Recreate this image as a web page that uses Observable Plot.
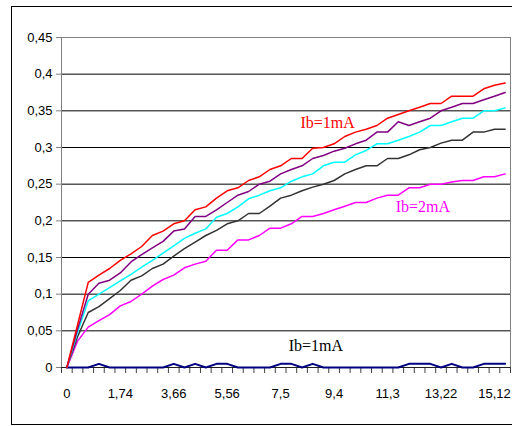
<!DOCTYPE html>
<html><head><meta charset="utf-8">
<script src="https://cdn.jsdelivr.net/npm/d3@7"></script>
<script src="https://cdn.jsdelivr.net/npm/@observablehq/plot@0.6"></script>
<style>
body{margin:0;background:#fff}
#chart{position:relative;width:512px;height:426px;overflow:hidden}
</style>
</head><body><div id="chart"></div>
<script>
// category tick labels (every 5th category of 42)
const xLabels = ["0","1,74","3,66","5,56","7,5","9,4","11,3","13,22","15,12"];
const yTicks = [0,0.05,0.1,0.15,0.2,0.25,0.3,0.35,0.4,0.45];

const redVals = [0,0.058,0.116,0.126,0.135,0.146,0.155,0.165,0.18,0.186,0.196,0.2,0.215,0.219,0.231,0.241,0.245,0.255,0.26,0.27,0.275,0.285,0.285,0.299,0.3,0.305,0.315,0.321,0.325,0.33,0.34,0.345,0.35,0.355,0.36,0.36,0.37,0.37,0.37,0.38,0.385,0.388];
const purpleVals = [0,0.052,0.1,0.115,0.119,0.129,0.144,0.154,0.163,0.172,0.186,0.189,0.206,0.206,0.215,0.225,0.235,0.24,0.25,0.254,0.264,0.27,0.275,0.285,0.289,0.295,0.299,0.305,0.31,0.321,0.321,0.335,0.33,0.335,0.34,0.35,0.355,0.36,0.36,0.365,0.37,0.375];
const cyanVals = [0,0.048,0.091,0.1,0.109,0.118,0.127,0.137,0.146,0.156,0.166,0.176,0.183,0.189,0.205,0.21,0.219,0.23,0.235,0.241,0.245,0.254,0.26,0.264,0.275,0.28,0.28,0.29,0.296,0.305,0.305,0.31,0.315,0.321,0.33,0.33,0.335,0.34,0.34,0.35,0.35,0.354];
const blackVals = [0,0.042,0.075,0.083,0.094,0.105,0.119,0.125,0.135,0.141,0.152,0.162,0.171,0.18,0.187,0.196,0.2,0.21,0.21,0.22,0.231,0.235,0.241,0.246,0.25,0.255,0.264,0.27,0.275,0.275,0.285,0.285,0.29,0.297,0.3,0.306,0.31,0.31,0.321,0.321,0.325,0.325];
const magentaVals = [0,0.036,0.055,0.064,0.072,0.084,0.09,0.1,0.111,0.12,0.126,0.136,0.141,0.145,0.16,0.16,0.174,0.174,0.18,0.19,0.19,0.196,0.206,0.206,0.21,0.215,0.22,0.225,0.225,0.231,0.235,0.235,0.245,0.245,0.25,0.25,0.253,0.255,0.255,0.26,0.26,0.264];
const navyVals = [0,0,0,0.005,0,0,0,0,0,0,0.005,0,0.005,0,0.005,0.005,0,0,0,0,0.005,0.005,0,0.005,0,0,0,0,0,0,0,0,0.005,0.005,0.005,0,0.005,0,0,0.005,0.005,0.005];

const seriesNames = ["navy","magenta","black","cyan","purple","red"];
const seriesValues = [navyVals, magentaVals, blackVals, cyanVals, purpleVals, redVals];
const seriesColors = ["#000080","#ff00ff","#333333","#00ffff","#800080","#ff0000"];
const seriesWidths = [2,1.5,1.5,1.5,1.5,1.5];

// annotations (category position, value)
const annText = ["Ib=1mA","Ib=2mA","Ib=1mA"];
const annX = [24.4, 33.3, 23.3];
const annY = [0.333, 0.219, 0.029];
const annColor = ["#ff0000","#ff00ff","#000000"];

const n = redVals.length;
const idx = d3.range(n);
const boundaries = d3.range(n + 1).map(i => i - 0.5);
const labelIdx = xLabels.map((_, k) => k * 5);

const marks = [
  Plot.ruleY(yTicks.slice(1, -1), {stroke: "#000", strokeWidth: 1}),
  Plot.frame({stroke: "#808080", strokeWidth: 1}),
  Plot.axisY({ticks: yTicks, tickSize: 5, tickPadding: 4, stroke: "#808080", fill: "#000",
    tickFormat: d => String(d).replace(".", ","), label: null}),
  Plot.axisX({ticks: boundaries, tickSize: 6, tickFormat: () => "", stroke: "#404040", label: null}),
  Plot.axisX({ticks: labelIdx, tickSize: 0, tickPadding: 21, tickFormat: i => xLabels[Math.round(i / 5)], fill: "#000", label: null}),
  Plot.ruleY([0], {stroke: "#202020", strokeWidth: 1})
];
seriesNames.forEach((name, s) => {
  marks.push(Plot.line(idx, {x: i => i, y: i => seriesValues[s][i], stroke: seriesColors[s], strokeWidth: seriesWidths[s]}));
});
annText.forEach((t, k) => {
  marks.push(Plot.text([k], {x: () => annX[k], y: () => annY[k], text: () => t, fill: annColor[k],
    fontFamily: "'Liberation Serif','Times New Roman',serif", fontSize: 16}));
});

const plot = Plot.plot({
  width: 512, height: 426,
  marginLeft: 61, marginRight: 2, marginTop: 37, marginBottom: 59,
  style: {fontFamily: "'Liberation Sans', Arial, sans-serif", fontSize: "13px", background: "white", color: "#000"},
  x: {type: "linear", domain: [-0.5, n - 0.5]},
  y: {domain: [0, 0.45]},
  marks
});

// stretch text vertically like the original export
d3.select(plot).selectAll("text").each(function() {
  const g = this.closest("[font-family]");
  const serif = g && /Serif/.test(g.getAttribute("font-family"));
  const k = serif ? 1.4 : 1.3;
  const xs = this.getAttribute("x"), ys = this.getAttribute("y");
  const x = xs == null ? 0 : Number(xs), y = ys == null ? 0 : Number(ys);
  let t = this.getAttribute("transform") || "";
  if (isFinite(x) && isFinite(y)) {
    this.removeAttribute("x"); this.removeAttribute("y");
    t = `${t} translate(${x},${y})`;
    this.setAttribute("transform", `${t} scale(1,${k})`);
  }
});
// outer chart border
d3.select(plot).append("rect").attr("x", 11.5).attr("y", 6.5).attr("width", 520).attr("height", 418)
  .attr("fill", "none").attr("stroke", "#000");

document.getElementById("chart").appendChild(plot);
</script>
</body></html>
